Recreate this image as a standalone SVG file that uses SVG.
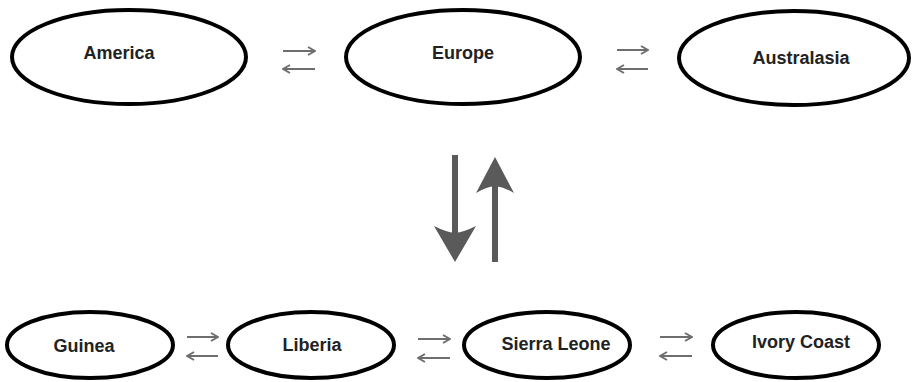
<svg xmlns="http://www.w3.org/2000/svg" width="915" height="382" viewBox="0 0 915 382">
<defs>
<style>
.node ellipse{fill:#fff;stroke:#000;stroke-width:4}
.node text{font-family:"Liberation Sans",Arial,sans-serif;font-weight:bold;font-size:18px;fill:#222;text-anchor:middle}
.small{stroke:#6e6e6e;stroke-width:2;fill:none}
.big{fill:#5a5a5a}
</style>
<marker id="h" viewBox="0 0 10 10" refX="9" refY="5" markerWidth="10" markerHeight="10" orient="auto" markerUnits="userSpaceOnUse">
<path d="M2,1 L9,5 L2,9" fill="none" stroke="#6e6e6e" stroke-width="2"/>
</marker>
</defs>
<rect width="915" height="382" fill="#fff"/>
<g id="america" class="node"><ellipse cx="129" cy="57" rx="117" ry="47"/><text x="119" y="59">America</text></g>
<g id="europe" class="node"><ellipse cx="463" cy="57" rx="117" ry="47"/><text x="463" y="59">Europe</text></g>
<g id="australasia" class="node"><ellipse cx="794" cy="58" rx="115" ry="47"/><text x="801" y="64">Australasia</text></g>
<g id="guinea" class="node"><ellipse cx="90" cy="345" rx="83" ry="33"/><text x="84" y="352">Guinea</text></g>
<g id="liberia" class="node"><ellipse cx="311" cy="345" rx="83" ry="33"/><text x="312" y="351">Liberia</text></g>
<g id="sierraleone" class="node"><ellipse cx="547" cy="345" rx="83" ry="33"/><text x="556" y="350">Sierra Leone</text></g>
<g id="ivorycoast" class="node"><ellipse cx="796" cy="345" rx="83" ry="33"/><text x="801" y="348">Ivory Coast</text></g>
<g id="connectors">
<line class="small" x1="283" y1="51" x2="315" y2="51" marker-end="url(#h)"/>
<line class="small" x1="315" y1="69" x2="283" y2="69" marker-end="url(#h)"/>
<line class="small" x1="617" y1="50" x2="648" y2="50" marker-end="url(#h)"/>
<line class="small" x1="648" y1="69" x2="617" y2="69" marker-end="url(#h)"/>
<line class="small" x1="187" y1="337" x2="218" y2="337" marker-end="url(#h)"/>
<line class="small" x1="218" y1="356" x2="187" y2="356" marker-end="url(#h)"/>
<line class="small" x1="418" y1="339" x2="450" y2="339" marker-end="url(#h)"/>
<line class="small" x1="450" y1="358" x2="418" y2="358" marker-end="url(#h)"/>
<line class="small" x1="660" y1="337" x2="692" y2="337" marker-end="url(#h)"/>
<line class="small" x1="692" y1="356" x2="660" y2="356" marker-end="url(#h)"/>
<rect class="big" x="452" y="155" width="6" height="80"/>
<path class="big" d="M455,262 L434,226 Q446,232 455,233 Q464,232 476,226 Z"/>
<rect class="big" x="492" y="185" width="6" height="77"/>
<path class="big" d="M495,157 L476,193 Q486,187 495,186 Q504,187 514,193 Z"/>
</g>
</svg>
